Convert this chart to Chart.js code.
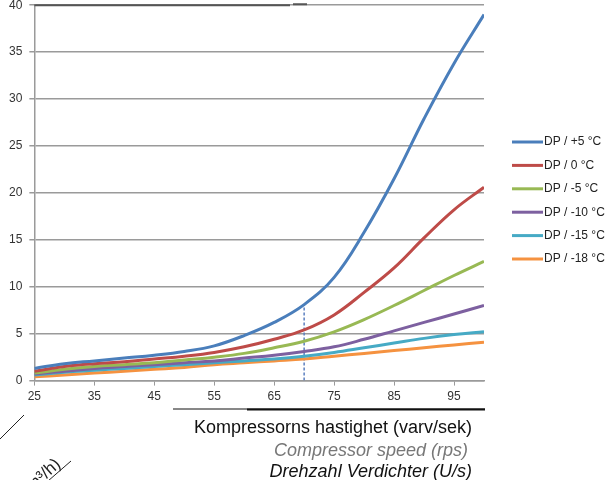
<!DOCTYPE html>
<html>
<head>
<meta charset="utf-8">
<script src="https://cdn.jsdelivr.net/npm/chart.js@4.4.1/dist/chart.umd.min.js"></script>
<style>
  html, body { margin: 0; padding: 0; background: #fff; }
  #wrap { position: relative; width: 613px; height: 480px; overflow: hidden; }
  #chart { position: absolute; left: 0; top: -9px; }
  .xtitle { position: absolute; right: 141px; font-family: "Liberation Sans", Arial, sans-serif; font-size: 18px; white-space: nowrap; line-height: 20px; }
</style>
</head>
<body>
<div id="wrap">
  <canvas id="chart" width="613" height="489"></canvas>
  <div class="xtitle" style="top:417px; color:#111;">Kompressorns hastighet (varv/sek)</div>
  <div class="xtitle" style="top:440px; color:#777; font-style:italic; right:145px;">Compressor speed (rps)</div>
  <div class="xtitle" style="top:461px; color:#111; font-style:italic;">Drehzahl Verdichter (U/s)</div>
</div>
<script>
// Compressor speed (rps) on the x axis
const speeds = [25, 30, 35, 40, 45, 50, 55, 60, 65, 70, 75, 80, 85, 90, 95, 100];
const xTicks = [25, 35, 45, 55, 65, 75, 85, 95];
const yTicks = [0, 5, 10, 15, 20, 25, 30, 35, 40];

// one curve per dew point
const dpPlus5  = [1.3, 1.8, 2.1, 2.4, 2.7, 3.1, 3.7, 4.8, 6.2, 8.1, 11.0, 15.8, 21.5, 27.9, 33.8, 39.0];
const dp0      = [1.0, 1.5, 1.8, 2.0, 2.3, 2.6, 3.0, 3.6, 4.4, 5.4, 7.0, 9.4, 12.0, 15.2, 18.2, 20.6];
const dpMinus5 = [0.8, 1.2, 1.5, 1.7, 1.9, 2.2, 2.5, 2.9, 3.5, 4.2, 5.2, 6.5, 8.0, 9.6, 11.2, 12.7];
const dpMinus10 = [0.7, 1.0, 1.3, 1.5, 1.7, 1.9, 2.1, 2.4, 2.7, 3.1, 3.6, 4.4, 5.3, 6.2, 7.1, 8.0];
const dpMinus15 = [0.6, 0.9, 1.1, 1.3, 1.5, 1.7, 1.9, 2.1, 2.3, 2.6, 3.0, 3.5, 4.0, 4.5, 4.9, 5.2];
const dpMinus18 = [0.4, 0.6, 0.8, 1.0, 1.2, 1.4, 1.7, 1.9, 2.1, 2.3, 2.6, 2.9, 3.2, 3.5, 3.8, 4.1];

const seriesLabels = ['DP / +5 °C', 'DP / 0 °C', 'DP / -5 °C', 'DP / -10 °C', 'DP / -15 °C', 'DP / -18 °C'];
const seriesValues = [dpPlus5, dp0, dpMinus5, dpMinus10, dpMinus15, dpMinus18];
const seriesColors = ['#4a7ebb', '#be4b48', '#98b954', '#7d60a0', '#46aac5', '#f59240'];

// marked operating point (dashed drop line)
const markerSpeed = 70;

// canvas sits 9px above the page so the top label is clipped like in the scan
const canvasShift = 9;

function toPoints(values) {
    return speeds.map((s, i) => ({ x: s, y: values[i] }));
}

const datasets = seriesValues.map((vals, i) => ({
    label: seriesLabels[i],
    data: toPoints(vals),
    borderColor: seriesColors[i],
    borderWidth: 3,
    pointRadius: 0,
    tension: 0.4,
    fill: false
}));

datasets.push({
    label: 'marker',
    data: [{ x: markerSpeed, y: 0 }, { x: markerSpeed, y: dpPlus5[speeds.indexOf(markerSpeed)] }],
    borderColor: '#5a7fc0',
    borderWidth: 1.5,
    borderDash: [3, 2],
    pointRadius: 0
});

// extra drawing: legend on the right and the cut-off pieces of the scanned figure
const decorPlugin = {
    id: 'decor',
    afterDraw(chart) {
        const ctx = chart.ctx;
        const area = chart.chartArea;
        ctx.save();
        ctx.translate(0, canvasShift);   // from here on: page coordinates
        const top = area.top - canvasShift;

        // legend
        ctx.font = '12px "Liberation Sans", Arial, sans-serif';
        ctx.textBaseline = 'middle';
        seriesLabels.forEach((label, i) => {
            const y = 142 + i * 23.4;
            ctx.strokeStyle = seriesColors[i];
            ctx.lineWidth = 3;
            ctx.beginPath();
            ctx.moveTo(512, y);
            ctx.lineTo(543, y);
            ctx.stroke();
            ctx.fillStyle = '#222';
            ctx.fillText(label, 544, y);
        });

        // dark rule along the top gridline
        ctx.strokeStyle = '#555';
        ctx.lineWidth = 2;
        ctx.beginPath();
        ctx.moveTo(area.left, top);
        ctx.lineTo(290, top);
        ctx.moveTo(293, top - 1);
        ctx.lineTo(307, top - 1);
        ctx.stroke();

        // rules under the x tick labels
        ctx.strokeStyle = '#111';
        ctx.lineWidth = 1;
        ctx.beginPath();
        ctx.moveTo(173, 409);
        ctx.lineTo(485, 409);
        ctx.stroke();
        ctx.lineWidth = 2;
        ctx.beginPath();
        ctx.moveTo(247, 409.5);
        ctx.lineTo(485, 409.5);
        ctx.stroke();

        // diagonal strokes and clipped unit text, bottom left
        ctx.strokeStyle = '#222';
        ctx.lineWidth = 1;
        ctx.beginPath();
        ctx.moveTo(0, 439);
        ctx.lineTo(24, 415);
        ctx.moveTo(48, 481);
        ctx.lineTo(71, 461);
        ctx.stroke();

        ctx.translate(32, 492);
        ctx.rotate(-42 * Math.PI / 180);
        ctx.font = '17px "Liberation Sans", Arial, sans-serif';
        ctx.fillStyle = '#222';
        ctx.textBaseline = 'alphabetic';
        ctx.fillText('m³/h)', 0, 0);

        ctx.restore();
    }
};

new Chart(document.getElementById('chart'), {
    type: 'line',
    data: { datasets: datasets },
    options: {
        responsive: false,
        animation: false,
        layout: { padding: { left: 2, right: 129, top: 0, bottom: 72 } },
        plugins: { legend: { display: false }, tooltip: { enabled: false } },
        scales: {
            x: {
                type: 'linear',
                min: 25,
                max: 100,
                afterBuildTicks: scale => { scale.ticks = xTicks.map(v => ({ value: v })); },
                grid: { drawOnChartArea: false, color: '#9a9a9a', tickLength: 5, lineWidth: 1 },
                border: { color: '#9a9a9a', width: 1.5 },
                ticks: { color: '#333', padding: 4, font: { family: '"Liberation Sans", Arial, sans-serif', size: 12 } }
            },
            y: {
                min: 0,
                max: 40,
                afterBuildTicks: scale => { scale.ticks = yTicks.map(v => ({ value: v })); },
                grid: { color: '#9a9a9a', lineWidth: 1.5, tickLength: 5 },
                border: { color: '#9a9a9a', width: 1.5 },
                ticks: { color: '#333', padding: 7, font: { family: '"Liberation Sans", Arial, sans-serif', size: 12 } }
            }
        }
    },
    plugins: [decorPlugin]
});
</script>
</body>
</html>
